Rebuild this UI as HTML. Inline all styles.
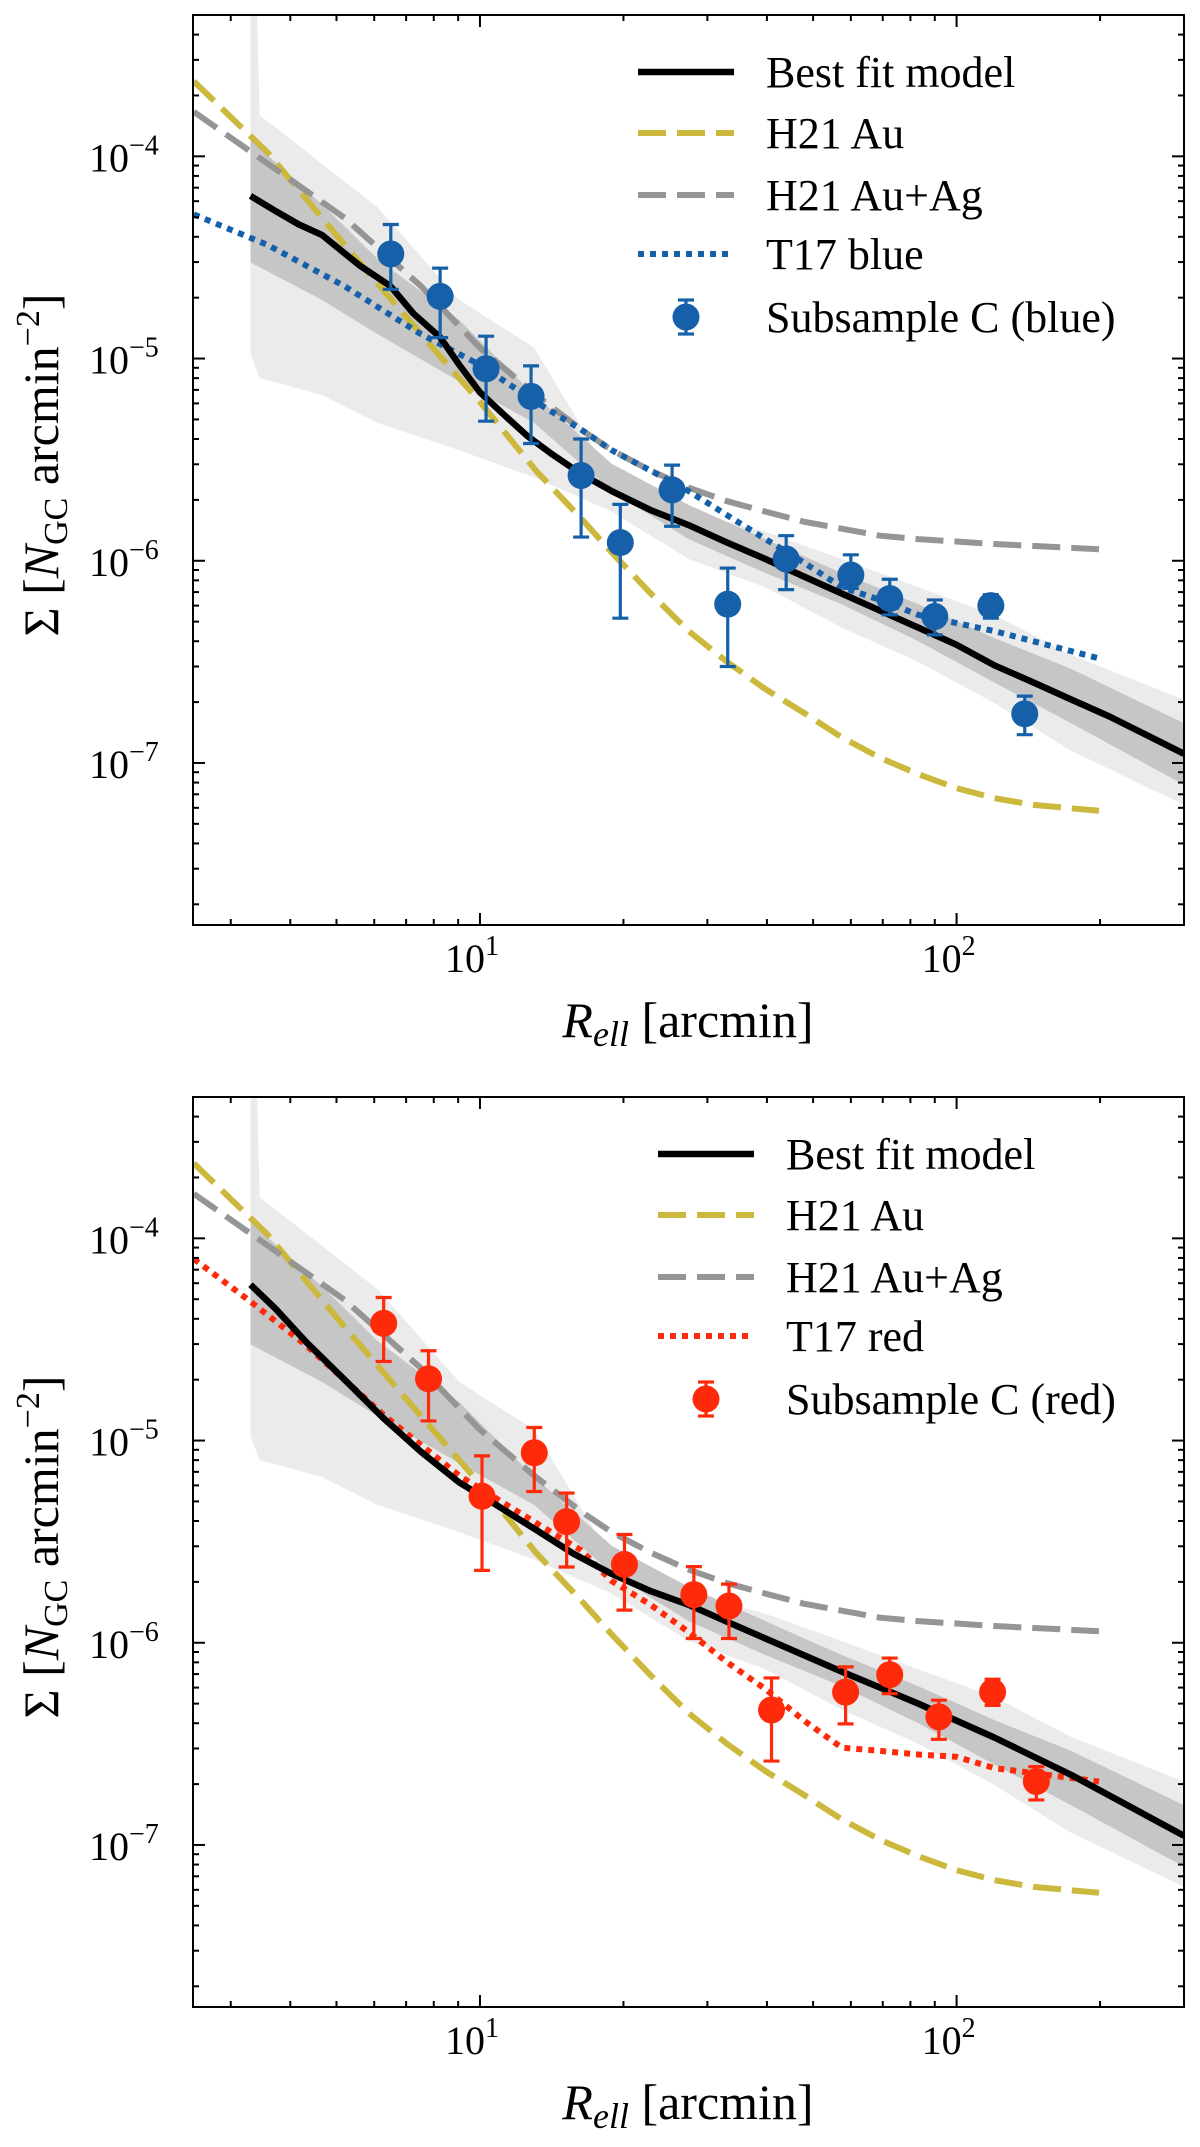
<!DOCTYPE html>
<html><head><meta charset="utf-8">
<style>
html,body{margin:0;padding:0;background:#fff;}
svg{display:block;}
text{font-family:"Liberation Serif","DejaVu Serif",serif;fill:#000;}
</style></head>
<body>
<svg id="fig" width="1200" height="2147" viewBox="0 0 1200 2147" xmlns="http://www.w3.org/2000/svg"></svg>
<script>
// ---------- data ----------
const xDomain = [2.5, 300];
const yDomain = [1.58e-8, 5.0e-4];
const xTicks = [10, 100];
const xTickLabels = ["1", "2"];
const yTicks = [1e-4, 1e-5, 1e-6, 1e-7];
const yTickLabels = ["−4", "−5", "−6", "−7"];

const bestX_top = [3.30,3.72,4.17,4.66,5.60,6.49,7.25,8.26,9.05,10,11.3,12.6,14.1,16.3,18.9,22.8,27.4,33.0,39.7,47.8,57.4,69.1,83.1,100,120,145,174,209,300];
const bestY_top = [6.37e-5,5.37e-5,4.6e-5,4.09e-5,2.88e-5,2.28e-5,1.67e-5,1.27e-5,9.3e-6,6.8e-6,5.2e-6,4.12e-6,3.39e-6,2.69e-6,2.21e-6,1.78e-6,1.50e-6,1.23e-6,1.02e-6,8.36e-7,6.89e-7,5.66e-7,4.67e-7,3.84e-7,3.04e-7,2.5e-7,2.06e-7,1.70e-7,1.11e-7];
const bestX_bot = [3.30,3.72,4.33,5.2,6.25,7.52,9.05,10.9,13.1,15.7,18.9,22.8,27.4,33.0,39.7,57.4,83.1,120,174,300];
const bestY_bot = [5.9e-5,4.5e-5,3.05e-5,2.0e-5,1.3e-5,8.8e-6,6.2e-6,4.75e-6,3.62e-6,2.76e-6,2.19e-6,1.80e-6,1.54e-6,1.27e-6,1.05e-6,7.2e-7,5.0e-7,3.4e-7,2.22e-7,1.11e-7];

const bandX = [3.3,4.66,6.1,9.05,13.0,18.9,27.4,39.7,57.4,83.1,120,174,300];
const darkHi = [1.21e-4,5.8e-5,3.11e-5,1.55e-5,6.6e-6,3.02e-6,1.89e-6,1.28e-6,8.7e-7,6.1e-7,4.15e-7,2.92e-7,1.57e-7];
const darkLo = [2.99e-5,1.95e-5,1.32e-5,7.7e-6,4.8e-6,2.21e-6,1.28e-6,8.7e-7,6.1e-7,4.0e-7,2.5e-7,1.57e-7,7.8e-8];
const lightX = [3.3,3.3,3.45,4.66,6.1,9.05,13.0,18.9,27.4,39.7,57.4,83.1,120,174,300];
const lightHi = [1e-2,1e-2,1.6e-4,9.2e-5,5.6e-5,1.95e-5,1.13e-5,2.58e-6,1.75e-6,1.39e-6,1.02e-6,7.4e-7,5.4e-7,3.42e-7,2.06e-7];
const lightLo = [1.05e-5,1.05e-5,8.0e-6,6.6e-6,4.8e-6,3.52e-6,2.58e-6,1.75e-6,1.02e-6,7.4e-7,4.67e-7,3.16e-7,1.98e-7,1.15e-7,6.2e-8];

const modelX = [2.51,3.59,5.2,7.52,10,13.1,16.3,18.9,22.8,27.4,33.0,39.7,47.8,57.4,69.1,83.1,100,120,145,199];
const auY = [2.35e-4,1.04e-4,3.64e-5,1.32e-5,6.1e-6,2.79e-6,1.62e-6,1.1e-6,6.9e-7,4.49e-7,3.16e-7,2.32e-7,1.77e-7,1.34e-7,1.06e-7,8.8e-8,7.5e-8,6.7e-8,6.2e-8,5.8e-8];
const agX = [2.51,3.59,5.2,7.52,10,13.1,16.3,18.9,22.8,27.4,33.0,39.7,47.8,57.4,69.1,83.1,120,199];
const agY = [1.66e-4,9.2e-5,4.96e-5,2.28e-5,1.13e-5,6.6e-6,4.46e-6,3.52e-6,2.79e-6,2.3e-6,1.97e-6,1.75e-6,1.56e-6,1.44e-6,1.33e-6,1.28e-6,1.21e-6,1.14e-6];

const t17bX = [2.51,3.59,5.2,7.52,10,13.1,16.3,18.9,22.8,27.4,33.0,39.7,47.8,57.4,69.1,83.1,120,199];
const t17bY = [5.16e-5,3.64e-5,2.28e-5,1.32e-5,9.3e-6,6.1e-6,4.46e-6,3.52e-6,2.79e-6,2.21e-6,1.68e-6,1.28e-6,9.8e-7,7.4e-7,6.4e-7,5.4e-7,4.49e-7,3.29e-7];
const t17rX = [2.51,3.30,4.33,6.25,9.05,13.1,16.3,18.9,22.8,27.4,33.0,39.7,47.8,57.4,69.1,83.1,100,120,199];
const t17rY = [7.9e-5,4.87e-5,2.94e-5,1.35e-5,6.7e-6,3.92e-6,2.87e-6,2.02e-6,1.54e-6,1.13e-6,8.0e-7,5.9e-7,4.13e-7,3.03e-7,2.92e-7,2.8e-7,2.73e-7,2.4e-7,2.06e-7];

const blueX = [6.5,8.25,10.3,12.8,16.3,19.7,25.3,33.1,43.9,60,72.4,90,118,139];
const blueY = [3.29e-5,2.03e-5,8.9e-6,6.5e-6,2.64e-6,1.23e-6,2.24e-6,6.1e-7,1.02e-6,8.5e-7,6.5e-7,5.3e-7,6.0e-7,1.75e-7];
const blueHi = [4.6e-5,2.8e-5,1.29e-5,9.2e-6,4.0e-6,1.9e-6,2.97e-6,9.2e-7,1.33e-6,1.07e-6,8.1e-7,6.4e-7,6.8e-7,2.14e-7];
const blueLo = [2.2e-5,1.27e-5,4.9e-6,3.8e-6,1.31e-6,5.2e-7,1.48e-6,3.0e-7,7.2e-7,7.3e-7,5.4e-7,4.3e-7,5.2e-7,1.38e-7];

const redX = [6.28,7.8,10.1,13.0,15.2,20.1,28.1,33.3,40.9,58.5,72.4,91.8,119,147];
const redY = [3.8e-5,2.02e-5,5.3e-6,8.7e-6,3.97e-6,2.44e-6,1.73e-6,1.52e-6,4.65e-7,5.7e-7,6.95e-7,4.3e-7,5.7e-7,2.06e-7];
const redHi = [5.1e-5,2.78e-5,8.4e-6,1.16e-5,5.5e-6,3.43e-6,2.38e-6,1.95e-6,6.7e-7,7.6e-7,8.4e-7,5.2e-7,6.6e-7,2.44e-7];
const redLo = [2.46e-5,1.25e-5,2.28e-6,5.6e-6,2.37e-6,1.45e-6,1.05e-6,1.05e-6,2.6e-7,3.97e-7,5.6e-7,3.33e-7,4.9e-7,1.67e-7];

// ---------- drawing ----------
const NS = "http://www.w3.org/2000/svg";
const svg = document.getElementById("fig");
function mk(tag, attrs, parent){ const e=document.createElementNS(NS,tag); for(const k in attrs) e.setAttribute(k,attrs[k]); (parent||svg).appendChild(e); return e; }

const COL = {blue:"#1560a8", red:"#ff2a0a", au:"#cbb83d", ag:"#959595", dark:"#c6c6c6", light:"#ebebeb"};

function panel(top, opts){
  const L=193, R=1184, T=top, B=top+910;
  const lx0=Math.log10(xDomain[0]), lx1=Math.log10(xDomain[1]);
  const ly0=Math.log10(yDomain[0]), ly1=Math.log10(yDomain[1]);
  const sx = v => L + (Math.log10(v)-lx0)/(lx1-lx0)*(R-L);
  const sy = v => B - (Math.log10(v)-ly0)/(ly1-ly0)*(B-T);
  const g = mk("g",{});
  
  
  const cid = "clip"+top;
  const cp = mk("clipPath",{id:cid},g); mk("rect",{x:L,y:T,width:R-L,height:B-T},cp);
  const plot = mk("g",{"clip-path":"url(#"+cid+")"},g);
  const line = (xs,ys)=> xs.map((x,i)=>(i?"L":"M")+sx(x).toFixed(1)+","+sy(ys[i]).toFixed(1)).join("");
  const band = (xs,hi,lo)=> line(xs,hi)+xs.slice().reverse().map((x,i)=>"L"+sx(x).toFixed(1)+","+sy(lo[xs.length-1-i]).toFixed(1)).join("")+"Z";

  const lb = mk("path",{d:band(lightX,lightHi,lightLo),fill:COL.light},plot);
  
  
  const db = mk("path",{d:band(bandX,darkHi,darkLo),fill:COL.dark},plot);
  
  

  const au = mk("path",{d:line(modelX,auY),fill:"none",stroke:COL.au,"stroke-width":6,"stroke-dasharray":"28,11"},plot);
  
  
  const ag = mk("path",{d:line(agX,agY),fill:"none",stroke:COL.ag,"stroke-width":6,"stroke-dasharray":"28,11"},plot);
  
  
  const t17 = mk("path",{d:line(opts.t17x,opts.t17y),fill:"none",stroke:opts.col,"stroke-width":6,"stroke-dasharray":"6,6"},plot);
  
  
  const bf = mk("path",{d:line(opts.bx,opts.by),fill:"none",stroke:"#000","stroke-width":6.5,"stroke-linejoin":"round"},plot);
  
  

  opts.px.forEach((x,i)=>{
    const cx=sx(x), y0=sy(opts.plo[i]), y1=sy(opts.phi[i]);
    const pg = mk("g",{stroke:opts.col,"stroke-width":3.2},plot);
    
    
    mk("line",{x1:cx,x2:cx,y1:y0,y2:y1},pg);
    mk("line",{x1:cx-8,x2:cx+8,y1:y0,y2:y0},pg);
    mk("line",{x1:cx-8,x2:cx+8,y1:y1,y2:y1},pg);
    mk("circle",{cx:cx,cy:sy(opts.py[i]),r:13.5,fill:opts.col,stroke:"none"},pg);
  });

  const fr = mk("rect",{x:L,y:T,width:R-L,height:B-T,fill:"none",stroke:"#000","stroke-width":2},g);
  
  
  const tg = mk("g",{stroke:"#000","stroke-width":2},g);
  for(let d=0; d<=3; d++){ for(let m=1;m<=9;m++){ const v=m*Math.pow(10,d); if(v<xDomain[0]||v>xDomain[1]) continue;
    const X=sx(v), len=(m===1)?12:6;
    mk("line",{x1:X,x2:X,y1:B,y2:B-len},tg); mk("line",{x1:X,x2:X,y1:T,y2:T+len},tg);}}
  for(let d=-8; d<=-3; d++){ for(let m=1;m<=9;m++){ const v=m*Math.pow(10,d); if(v<yDomain[0]||v>yDomain[1]) continue;
    const Y=sy(v), len=(m===1)?12:6;
    mk("line",{x1:L,x2:L+len,y1:Y,y2:Y},tg); mk("line",{x1:R,x2:R-len,y1:Y,y2:Y},tg);}}
  xTicks.forEach((v,i)=>{
    const t=mk("text",{x:sx(v)-8,y:B+47,"font-size":40,"text-anchor":"middle"},g);
    
    
    t.appendChild(document.createTextNode("10"));
    const s=mk("tspan",{dy:-17,"font-size":28},t); s.textContent=xTickLabels[i];
  });
  yTicks.forEach((v,i)=>{
    const t=mk("text",{x:89,y:sy(v)+15,"font-size":40},g);
    
    
    t.appendChild(document.createTextNode("10"));
    const s=mk("tspan",{dy:-17,"font-size":28},t); s.textContent=yTickLabels[i];
  });
  const xt=mk("text",{x:688,y:B+112,"font-size":50,"text-anchor":"middle"},g);
  
  
  const i1=mk("tspan",{"font-style":"italic"},xt); i1.textContent="R";
  const i2=mk("tspan",{"font-style":"italic","font-size":36,dy:9},xt); i2.textContent="ell";
  const i3=mk("tspan",{dy:-9},xt); i3.textContent=" [arcmin]";
  const yt=mk("text",{x:0,y:0,"font-size":50,"text-anchor":"middle",transform:"translate(58,"+(T+450)+") rotate(-90)"},g);
  
  
  yt.appendChild(document.createTextNode("Σ ["));
  const n1=mk("tspan",{"font-style":"italic"},yt); n1.textContent="N";
  const n2=mk("tspan",{"font-size":34,dy:9},yt); n2.textContent="GC";
  const n3=mk("tspan",{dy:-9},yt); n3.textContent=" arcmin";
  const n4=mk("tspan",{"font-size":34,dy:-19},yt); n4.textContent="−2";
  const n5=mk("tspan",{dy:19},yt); n5.textContent="]";

  const lg = mk("g",{},g);
  
  
  const lx=opts.legX, tx=opts.legX+128;
  const rows=[["Best fit model",{stroke:"#000","stroke-width":6.5}],["H21 Au",{stroke:COL.au,"stroke-width":6,"stroke-dasharray":"28,11"}],["H21 Au+Ag",{stroke:COL.ag,"stroke-width":6,"stroke-dasharray":"28,11"}],[opts.t17label,{stroke:opts.col,"stroke-width":6,"stroke-dasharray":"6,6"}],[opts.ptlabel,null]];
  const rowY=[72,133,195,254,317];
  rows.forEach((r,i)=>{
    const y=T+rowY[i]-15;
    const e=mk("g",{},lg);
    
    
    if(r[1]){ const a=Object.assign({x1:lx,x2:lx+96,y1:y,y2:y},r[1]); mk("line",a,e); }
    else { const c=lx+48; mk("line",{x1:c,x2:c,y1:y-17,y2:y+17,stroke:opts.col,"stroke-width":3.2},e);
      mk("line",{x1:c-8,x2:c+8,y1:y-17,y2:y-17,stroke:opts.col,"stroke-width":3.2},e);
      mk("line",{x1:c-8,x2:c+8,y1:y+17,y2:y+17,stroke:opts.col,"stroke-width":3.2},e);
      mk("circle",{cx:c,cy:y,r:13.5,fill:opts.col},e); }
    const t=mk("text",{x:tx,y:y+15,"font-size":44},e); t.textContent=r[0];
  });
}

panel(15,{name:"top-panel-blue",col:COL.blue,t17x:t17bX,t17y:t17bY,t17name:"t17-blue-line",bx:bestX_top,by:bestY_top,px:blueX,py:blueY,phi:blueHi,plo:blueLo,legX:638,t17label:"T17 blue",ptlabel:"Subsample C (blue)"});
panel(1097,{name:"bottom-panel-red",col:COL.red,t17x:t17rX,t17y:t17rY,t17name:"t17-red-line",bx:bestX_bot,by:bestY_bot,px:redX,py:redY,phi:redHi,plo:redLo,legX:658,t17label:"T17 red",ptlabel:"Subsample C (red)"});
</script>
</body></html>
